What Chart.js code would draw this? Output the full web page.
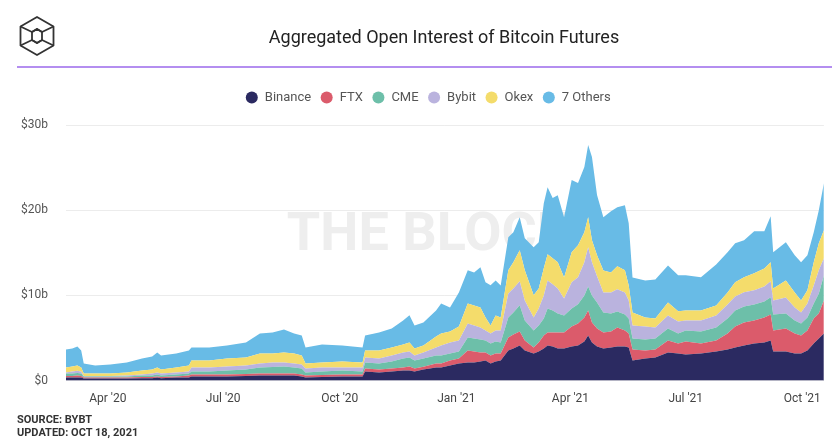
<!DOCTYPE html>
<html><head><meta charset="utf-8">
<script src="https://cdn.jsdelivr.net/npm/chart.js@4.4.0/dist/chart.umd.min.js"></script>
<style>
html,body{margin:0;padding:0;background:#fff;}
#wrap{position:relative;width:832px;height:440px;overflow:hidden;font-family:Roboto,'Noto Sans',sans-serif;}
#c{position:absolute;left:0;top:0;}
#logo{position:absolute;left:14px;top:14px;}
#title{position:absolute;left:0;width:888px;top:26px;text-align:center;font-size:18px;color:#222;line-height:22px;}
#rule{position:absolute;left:17px;right:0;top:66px;height:2px;background:#b48ef0;}
#src{position:absolute;left:17px;top:413px;font-size:11px;font-weight:bold;color:#333;line-height:13px;}
</style></head>
<body><div id="wrap">
<canvas id="c" width="832" height="440"></canvas>
<svg id="logo" width="46" height="46" viewBox="0 0 46 46" fill="none" stroke="#333" stroke-width="1.8" stroke-linejoin="round">
<polygon points="23,3 39.5,12.5 39.5,31.5 23,41 6.5,31.5 6.5,12.5"/>
<polyline points="6.5,12.5 18,18 23,15 28,18 39.5,12.5"/>
<polyline points="6.5,31.5 18,26 23,29 28,26 39.5,31.5"/>
<polygon points="18,18 23,15 28,18 28,26 23,29 18,26"/>
</svg>
<div id="title">Aggregated Open Interest of Bitcoin Futures</div>
<div id="rule"></div>
<div id="src">SOURCE: BYBT<br>UPDATED: OCT 18, 2021</div>
</div>
<script>
const seriesNames = ['Binance','FTX','CME','Bybit','Okex','7 Others'];
const seriesColors = ['#2b2a61','#db5b6b','#6dbfa9','#bab3de','#f4dc6b','#68bbe6'];
const tickDates = ['2020-04-01','2020-07-01','2020-10-01','2021-01-01','2021-04-01','2021-07-01','2021-10-01'];
const tickLabels = ["Apr '20","Jul '20","Oct '20","Jan '21","Apr '21","Jul '21","Oct '21"];
const dates = ['2020-02-28','2020-03-04','2020-03-08','2020-03-11','2020-03-13','2020-03-22','2020-04-03','2020-04-16','2020-04-28','2020-05-06',
'2020-05-10','2020-05-13','2020-05-25','2020-06-04','2020-06-06','2020-06-20','2020-07-04','2020-07-19','2020-07-30','2020-08-09',
'2020-08-18','2020-08-26','2020-09-01','2020-09-04','2020-09-17','2020-10-03','2020-10-19','2020-10-21','2020-11-01','2020-11-11',
'2020-11-20','2020-11-25','2020-11-29','2020-12-06','2020-12-16','2020-12-20','2020-12-27','2021-01-03','2021-01-10','2021-01-15',
'2021-01-20','2021-01-24','2021-01-28','2021-02-01','2021-02-05','2021-02-11','2021-02-15','2021-02-20','2021-02-24','2021-03-03',
'2021-03-07','2021-03-11','2021-03-14','2021-03-18','2021-03-22','2021-03-27','2021-04-02','2021-04-07','2021-04-12','2021-04-15',
'2021-04-18','2021-04-22','2021-04-27','2021-05-03','2021-05-08','2021-05-14','2021-05-17','2021-05-20','2021-05-30','2021-06-07',
'2021-06-17','2021-06-25','2021-07-01','2021-07-13','2021-07-25','2021-08-03','2021-08-09','2021-08-16','2021-08-24','2021-09-01',
'2021-09-06','2021-09-08','2021-09-18','2021-09-25','2021-09-30','2021-10-05','2021-10-10','2021-10-14','2021-10-18'];
const binance = [.35,.35,.35,.35,.24,.24,.24,.24,.29,.29, .35,.29,.35,.35,.47,.47,.47,.53,.59,.59, .59,.59,.47,.35,.41,.47,.47,1.06,.94,1.06,
1.18,1.18,1.06,1.29,1.53,1.53,1.76,2.0,2.12,2.12, 2.24,2.35,2.0,2.24,2.35,3.53,3.76,4.12,3.53,3.18, 3.41,3.76,4.12,4.0,3.76,3.76,4.0,4.12,4.59,5.29,
4.47,4.0,3.76,3.88,4.0,4.0,3.88,2.35,2.59,2.71, 3.29,3.18,3.06,3.18,3.41,3.65,3.88,4.12,4.35,4.47, 4.71,3.41,3.41,3.18,3.18,3.53,4.35,4.94,5.53];
const ftx = [.18,.18,.24,.18,.12,.12,.12,.12,.12,.12, .12,.12,.12,.24,.24,.24,.24,.24,.24,.24, .24,.24,.24,.24,.24,.24,.24,.35,.35,.35,
.35,.47,.35,.35,.47,.47,.59,.59,1.41,1.29, 1.06,.94,.94,.94,.82,1.53,1.65,1.65,1.18,.71, 1.06,1.53,1.53,1.65,1.88,1.88,2.35,2.59,2.82,2.94,
2.35,2.12,1.88,1.88,2.24,1.88,1.65,1.29,.94,.94, 1.41,1.18,1.53,1.18,1.29,1.88,2.47,2.71,2.71,2.94, 3.06,2.47,2.71,2.35,2.12,2.35,2.94,2.94,3.88];
const cme = [.29,.29,.29,.29,.12,.12,.12,.12,.18,.18, .24,.18,.24,.24,.35,.35,.47,.53,.71,.76, .82,.71,.71,.35,.41,.47,.35,.71,.71,.82,
1.06,1.06,.94,.94,.94,.94,.82,.82,1.53,1.53, 1.53,1.41,1.41,1.41,1.29,2.35,2.59,3.06,2.35,2.0, 2.0,2.0,2.82,2.59,2.24,2.0,2.12,2.24,2.59,2.82,
3.18,3.06,2.35,2.12,1.88,1.88,1.76,1.29,1.29,1.29, 1.41,1.18,1.29,1.41,1.53,1.76,1.88,1.88,1.88,1.88, 2.0,1.88,1.76,1.53,1.41,1.53,1.76,2.35,2.94];
const bybit = [.12,.24,.29,.24,.06,.06,.06,.12,.12,.24, .24,.24,.24,.24,.47,.47,.47,.47,.47,.53, .47,.47,.47,.47,.47,.35,.47,.59,.59,.71,
.71,.71,.59,.71,.94,1.18,1.29,1.29,1.65,1.53, 1.41,1.18,1.18,1.29,1.41,2.82,2.82,2.82,2.35,1.53, 2.0,2.71,3.29,3.06,2.94,2.0,3.06,3.18,3.88,4.6,
3.88,3.06,2.35,2.47,2.59,2.59,2.12,1.53,1.53,1.29, 1.53,1.41,1.18,1.29,1.41,1.65,1.65,1.65,1.65,1.76, 1.88,1.65,1.88,1.53,1.29,1.65,2.12,2.71,2.0];
const okex = [.59,.59,.59,.47,.29,.29,.29,.35,.47,.47, .59,.47,.59,.71,.82,.82,.94,.94,1.18,1.06, 1.18,1.18,1.06,.59,.59,.71,.59,.82,.94,.94,
.94,1.06,.82,.82,1.29,1.41,1.29,1.65,2.35,2.35, 2.35,1.53,.94,1.76,1.53,2.71,3.06,3.65,3.53,2.59, 2.35,3.18,3.06,3.06,3.06,2.47,3.53,3.76,3.53,3.53,
2.59,2.47,2.59,2.35,2.71,2.59,1.76,1.53,1.06,1.06, 1.53,1.18,1.18,1.18,1.18,1.41,1.65,1.76,2.0,2.12, 2.24,1.41,2.0,1.76,1.41,1.53,2.71,3.18,3.29];
const others = [2.12,2.12,2.24,2.0,1.18,.94,1.06,1.18,1.41,1.53, 1.76,1.65,1.65,1.76,1.53,1.53,1.53,1.76,2.35,2.47, 2.71,2.35,2.35,1.88,2.12,1.88,1.76,1.76,2.12,2.24,
2.82,3.18,2.71,2.71,3.06,3.53,2.82,4.0,3.88,3.88, 4.71,4.12,4.71,4.12,3.76,3.88,3.53,3.88,3.76,5.65, 5.41,7.65,7.88,7.06,7.88,7.06,8.47,7.29,7.65,8.46,
9.76,7.06,6.24,7.18,6.94,7.65,7.29,4.12,4.35,4.59, 4.35,4.24,4.12,3.88,4.82,4.71,4.59,4.35,4.94,4.35, 5.41,4.24,4.47,4.35,4.47,4.12,3.53,3.88,5.53];
const seriesValues = [binance, ftx, cme, bybit, okex, others];

const toDay = s => { const p = s.split('-').map(Number); return (Date.UTC(p[0],p[1]-1,p[2]) - Date.UTC(2020,0,1)) / 86400000; };
const xs = dates.map(toDay);
const tickDays = tickDates.map(toDay);

const datasets = seriesNames.map((name, k) => ({
  label: name,
  data: seriesValues[k].map((v, i) => ({x: xs[i], y: v})),
  backgroundColor: seriesColors[k],
  borderColor: seriesColors[k],
  borderWidth: 0,
  pointRadius: 0,
  tension: 0,
  fill: k === 0 ? 'origin' : '-1'
}));

const watermark = {
  id: 'watermark',
  beforeDatasetsDraw(chart) {
    const ctx = chart.ctx;
    ctx.save();
    ctx.font = 'bold 54px Roboto';
    ctx.fillStyle = '#eeeeee';
    ctx.textAlign = 'center';
    ctx.textBaseline = 'middle';
    ctx.fillText('THE BLOCK', 429, 236);
    ctx.restore();
  }
};
const legendTweak = {
  id: 'legendTweak',
  beforeInit(chart) {
    const origFit = chart.legend.fit;
    chart.legend.fit = function () { origFit.bind(chart.legend)(); this.height += 11; };
  },
  afterLayout(chart) {
    chart.legend.left += 9.5;
    chart.legend.right += 9.5;
  }
};

new Chart(document.getElementById('c'), {
  type: 'line',
  data: { datasets },
  plugins: [watermark, legendTweak],
  options: {
    responsive: false,
    animation: false,
    devicePixelRatio: 1,
    layout: { padding: { top: 82, left: 10, right: 5, bottom: 23 } },
    plugins: {
      legend: {
        position: 'top',
        labels: { usePointStyle: true, pointStyle: 'circle', boxHeight: 8.5, padding: 9, color: '#555', font: { family: 'Roboto', size: 13 } }
      },
      tooltip: { enabled: false }
    },
    scales: {
      x: {
        type: 'linear',
        min: toDay('2020-02-28'), max: toDay('2021-10-18'),
        grid: { display: false, drawTicks: false },
        border: { display: true, color: '#c9c9d3' },
        afterBuildTicks: s => { s.ticks = tickDays.map(v => ({ value: v })); },
        ticks: {
          autoSkip: false, maxRotation: 0, padding: 11, color: '#444',
          font: { family: 'Roboto', size: 12 },
          callback: v => { const i = tickDays.indexOf(v); return i >= 0 ? tickLabels[i] : ''; }
        }
      },
      y: {
        stacked: true, min: 0, max: 30,
        afterFit: s => { s.width = 56; },
        grid: { color: '#ececec', drawTicks: false },
        border: { display: false },
        ticks: {
          stepSize: 10, padding: 18, color: '#555',
          font: { family: 'Roboto', size: 12 },
          callback: v => v === 0 ? '$0' : '$' + v + 'b'
        }
      }
    }
  }
});
</script>
</body></html>
